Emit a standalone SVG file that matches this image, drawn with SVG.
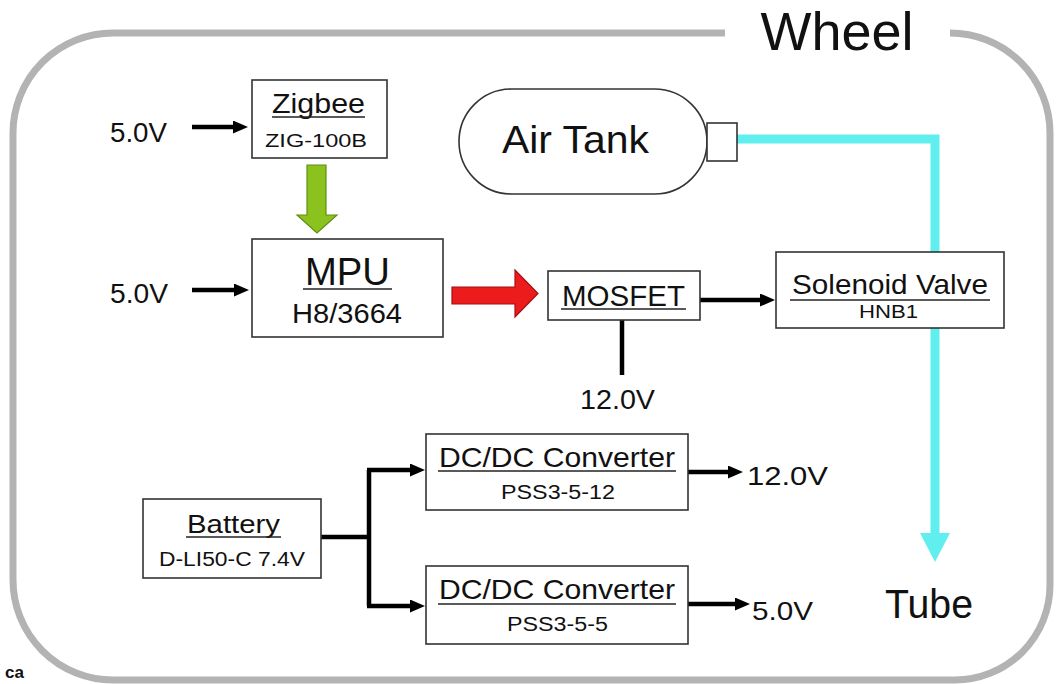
<svg xmlns="http://www.w3.org/2000/svg" width="1057" height="684" viewBox="0 0 1057 684">
<defs>
<style>
text{font-family:"Liberation Sans",Arial,sans-serif;fill:#111;}
.box{fill:#fff;stroke:#333;stroke-width:1.6;}
.wire{fill:none;stroke:#000;stroke-width:4.5;}
.ul{stroke:#222;stroke-width:1.5;}
.mid{text-anchor:middle;}
</style>
<marker id="ah" markerWidth="15" markerHeight="13" refX="6" refY="6.5" orient="auto" markerUnits="userSpaceOnUse"><path d="M0,0 L15,6.5 L0,13 z" fill="#000"/></marker>
</defs>
<rect width="1057" height="684" fill="#fff"/>

<g id="frame">
<path d="M 950 33 A 100 100 0 0 1 1050 133 V 585 A 95 95 0 0 1 955 680 H 113 A 100 100 0 0 1 13 580 V 133 A 100 100 0 0 1 113 33 H 725" fill="none" stroke="#b3b3b3" stroke-width="7"/>
<text x="837" y="50" font-size="53" class="mid" textLength="153" lengthAdjust="spacingAndGlyphs">Wheel</text>
<text x="5" y="678" font-size="17" font-weight="bold">ca</text>
</g>

<g id="connectors">
<path d="M 737 139 H 935 V 536" fill="none" stroke="#60eeee" stroke-width="9"/>
<polygon points="920,533 950,533 935,562" fill="#60eeee"/>
<polygon points="307,165 326,165 326,215 337,215 317,233 297,215 307,215" fill="#8cc21e" stroke="#5f8f12" stroke-width="1.2"/>
<polygon points="452,287 515,287 515,270 538,293.5 515,317 515,304 452,304" fill="#ec1c1c" stroke="#a41010" stroke-width="1.2"/>
<path class="wire" d="M 192 127 H 239" marker-end="url(#ah)"/>
<path class="wire" d="M 192 290 H 240" marker-end="url(#ah)"/>
<path class="wire" d="M 700 300 H 766" marker-end="url(#ah)"/>
<path class="wire" d="M 622 320 V 375"/>
<path class="wire" d="M 321 537 H 369"/>
<path class="wire" d="M 369 470 V 606"/>
<path class="wire" d="M 367 470 H 416" marker-end="url(#ah)"/>
<path class="wire" d="M 367 606 H 416" marker-end="url(#ah)"/>
<path class="wire" d="M 688 472 H 734" marker-end="url(#ah)"/>
<path class="wire" d="M 688 604 H 741" marker-end="url(#ah)"/>
</g>

<g id="label-5v-top"><text x="110" y="142" font-size="27" textLength="57" lengthAdjust="spacingAndGlyphs">5.0V</text></g>
<g id="label-5v-mid"><text x="110" y="303" font-size="27" textLength="58" lengthAdjust="spacingAndGlyphs">5.0V</text></g>
<g id="label-12v-mosfet"><text x="580" y="409" font-size="27" textLength="75" lengthAdjust="spacingAndGlyphs">12.0V</text></g>
<g id="label-12v-out"><text x="747" y="485" font-size="26" textLength="81" lengthAdjust="spacingAndGlyphs">12.0V</text></g>
<g id="label-5v-out"><text x="752" y="620" font-size="26" textLength="61" lengthAdjust="spacingAndGlyphs">5.0V</text></g>
<g id="label-tube"><text x="885" y="618" font-size="40" textLength="88" lengthAdjust="spacingAndGlyphs">Tube</text></g>

<g id="zigbee">
<rect class="box" x="252" y="80" width="135" height="78"/>
<text x="318.5" y="113" font-size="28" class="mid" textLength="93" lengthAdjust="spacingAndGlyphs">Zigbee</text>
<line class="ul" x1="272" y1="117" x2="365" y2="117"/>
<text x="316" y="147" font-size="19" class="mid" textLength="102" lengthAdjust="spacingAndGlyphs">ZIG-100B</text>
</g>

<g id="mpu">
<rect class="box" x="252" y="239" width="191" height="98"/>
<text x="347.5" y="285" font-size="38" class="mid" textLength="85" lengthAdjust="spacingAndGlyphs">MPU</text>
<line class="ul" x1="303" y1="289" x2="392" y2="289"/>
<text x="347" y="323" font-size="28" class="mid" textLength="110" lengthAdjust="spacingAndGlyphs">H8/3664</text>
</g>

<g id="air-tank">
<rect class="box" x="459" y="89" width="248" height="105" rx="52.5"/>
<text x="502" y="153" font-size="39" textLength="147" lengthAdjust="spacingAndGlyphs">Air Tank</text>
<rect class="box" x="707" y="123" width="30" height="38"/>
</g>

<g id="mosfet">
<rect class="box" x="548" y="271" width="152" height="49"/>
<text x="623.5" y="306" font-size="29" class="mid" textLength="123" lengthAdjust="spacingAndGlyphs">MOSFET</text>
<line class="ul" x1="561" y1="309" x2="686" y2="309"/>
</g>

<g id="solenoid">
<rect class="box" x="776" y="252" width="228" height="76"/>
<text x="890" y="294" font-size="28" class="mid" textLength="196" lengthAdjust="spacingAndGlyphs">Solenoid Valve</text>
<line class="ul" x1="790" y1="300" x2="990" y2="300"/>
<text x="888.5" y="318" font-size="19" class="mid" textLength="59" lengthAdjust="spacingAndGlyphs">HNB1</text>
</g>

<g id="battery">
<rect class="box" x="143" y="499" width="178" height="79"/>
<text x="233.5" y="533" font-size="26" class="mid" textLength="93" lengthAdjust="spacingAndGlyphs">Battery</text>
<line class="ul" x1="186" y1="537" x2="281" y2="537"/>
<text x="232" y="566" font-size="20" class="mid" textLength="146" lengthAdjust="spacingAndGlyphs">D-LI50-C 7.4V</text>
</g>

<g id="dcdc-12">
<rect class="box" x="426" y="434" width="262" height="76"/>
<text x="557" y="467" font-size="28" class="mid" textLength="236" lengthAdjust="spacingAndGlyphs">DC/DC Converter</text>
<line class="ul" x1="438" y1="471" x2="676" y2="471"/>
<text x="558" y="499" font-size="20" class="mid" textLength="114" lengthAdjust="spacingAndGlyphs">PSS3-5-12</text>
</g>

<g id="dcdc-5">
<rect class="box" x="426" y="566" width="262" height="78"/>
<text x="557" y="599" font-size="28" class="mid" textLength="236" lengthAdjust="spacingAndGlyphs">DC/DC Converter</text>
<line class="ul" x1="438" y1="604" x2="676" y2="604"/>
<text x="557.5" y="631" font-size="20" class="mid" textLength="101" lengthAdjust="spacingAndGlyphs">PSS3-5-5</text>
</g>
</svg>
